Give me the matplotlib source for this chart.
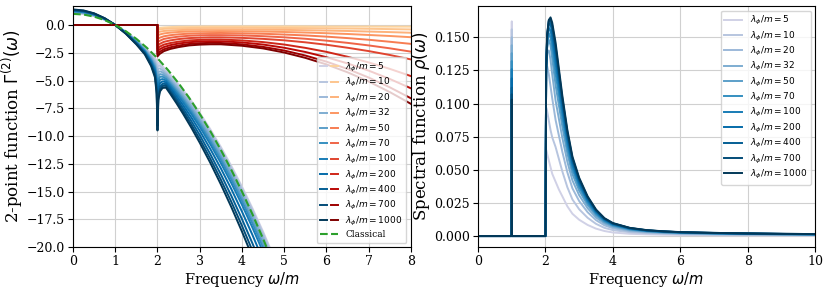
import numpy as np
import matplotlib
matplotlib.use('Agg')
import matplotlib.pyplot as plt
from matplotlib.legend_handler import HandlerTuple

# coupling values, one curve each
lam = [5, 10, 20, 32, 50, 70, 100, 200, 400, 700, 1000]

# ---- left panel: real part (blue) ----
w_re = [0, 0.25, 0.5, 0.75, 1.0, 1.25, 1.5, 1.7, 1.85, 1.94, 1.98, 2.0, 2.02, 2.06,
        2.12, 2.2, 2.3, 2.45, 2.6, 2.8, 3.0, 3.25, 3.5, 3.75, 4.0, 4.25, 4.5, 4.75]
gamma_re = [
    [1.06, 0.99, 0.80, 0.46, 0.0, -0.60, -1.33, -2.00, -2.59, -2.98, -3.20, -3.50, -3.40, -3.50,
     -3.72, -4.04, -4.45, -5.11, -5.81, -6.82, -7.91, -9.38, -10.98, -12.70, -14.55, -16.52, -18.61, -20.83],
    [1.09, 1.03, 0.82, 0.48, 0.0, -0.62, -1.37, -2.07, -2.70, -3.15, -3.49, -3.80, -3.62, -3.69,
     -3.89, -4.20, -4.61, -5.27, -5.97, -6.98, -8.07, -9.54, -11.13, -12.85, -14.70, -16.67, -18.76, -20.98],
    [1.13, 1.06, 0.85, 0.49, 0.0, -0.63, -1.41, -2.13, -2.81, -3.33, -3.79, -4.30, -3.91, -3.92,
     -4.08, -4.36, -4.78, -5.44, -6.15, -7.16, -8.26, -9.74, -11.35, -13.08, -14.93, -16.91, -19.02, -21.25],
    [1.16, 1.09, 0.87, 0.51, 0.0, -0.65, -1.45, -2.20, -2.92, -3.50, -4.09, -4.90, -4.25, -4.17,
     -4.27, -4.52, -4.94, -5.62, -6.33, -7.36, -8.47, -9.97, -11.59, -13.33, -15.21, -17.20, -19.32, -21.57],
    [1.20, 1.12, 0.90, 0.52, 0.0, -0.67, -1.50, -2.26, -3.04, -3.68, -4.39, -5.50, -4.58, -4.42,
     -4.47, -4.68, -5.11, -5.80, -6.53, -7.57, -8.70, -10.22, -11.86, -13.63, -15.52, -17.54, -19.68, -21.95],
    [1.23, 1.15, 0.92, 0.54, 0.0, -0.69, -1.54, -2.33, -3.15, -3.85, -4.69, -6.10, -4.92, -4.66,
     -4.66, -4.84, -5.28, -5.98, -6.72, -7.79, -8.93, -10.47, -12.13, -13.92, -15.84, -17.88, -20.04, -22.37],
    [1.26, 1.19, 0.95, 0.55, 0.0, -0.71, -1.58, -2.39, -3.26, -4.02, -4.99, -6.80, -5.30, -4.93,
     -4.87, -5.00, -5.45, -6.17, -6.93, -8.01, -9.17, -10.74, -12.43, -14.25, -16.19, -18.26, -20.45, -22.77],
    [1.30, 1.22, 0.97, 0.57, 0.0, -0.73, -1.62, -2.45, -3.37, -4.20, -5.29, -7.70, -5.75, -5.24,
     -5.08, -5.16, -5.64, -6.39, -7.19, -8.32, -9.53, -11.16, -12.91, -14.79, -16.80, -18.92, -21.18, -23.56],
    [1.33, 1.25, 1.00, 0.58, 0.0, -0.75, -1.67, -2.52, -3.49, -4.37, -5.59, -8.60, -6.21, -5.55,
     -5.30, -5.32, -5.83, -6.62, -7.46, -8.65, -9.92, -11.63, -13.45, -15.40, -17.48, -19.68, -22.01, -24.46],
    [1.37, 1.28, 1.03, 0.60, 0.0, -0.77, -1.71, -2.58, -3.60, -4.55, -5.89, -9.10, -6.50, -5.78,
     -5.49, -5.48, -6.01, -6.84, -7.72, -8.96, -10.28, -12.04, -13.93, -15.94, -18.08, -20.34, -22.73, -25.24],
    [1.40, 1.31, 1.05, 0.61, 0.0, -0.79, -1.75, -2.65, -3.71, -4.72, -6.19, -9.50, -6.76, -5.98,
     -5.67, -5.64, -6.19, -7.05, -7.96, -9.24, -10.60, -12.41, -14.35, -16.41, -18.60, -20.91, -23.35, -25.91],
]

# ---- left panel: imaginary part (red) ----
w_im = [0, 1.999, 2.0, 2.05, 2.15, 2.3, 2.5, 2.75, 3.0, 3.25, 3.5, 4.0, 4.5, 5.0,
        5.5, 6.0, 6.5, 7.0, 7.5, 8.0]
gamma_im = [
    [0, 0, -0.30, -0.26, -0.22, -0.19, -0.16, -0.15, -0.14, -0.13, -0.13, -0.13, -0.13, -0.13, -0.13, -0.14, -0.14, -0.14, -0.15, -0.15],
    [0, 0, -0.45, -0.40, -0.35, -0.32, -0.29, -0.27, -0.26, -0.25, -0.25, -0.25, -0.26, -0.27, -0.28, -0.30, -0.32, -0.34, -0.37, -0.40],
    [0, 0, -0.68, -0.61, -0.54, -0.50, -0.46, -0.43, -0.41, -0.40, -0.40, -0.41, -0.42, -0.44, -0.47, -0.50, -0.54, -0.59, -0.64, -0.70],
    [0, 0, -0.95, -0.86, -0.76, -0.69, -0.63, -0.59, -0.57, -0.56, -0.55, -0.57, -0.59, -0.63, -0.68, -0.74, -0.81, -0.90, -0.99, -1.10],
    [0, 0, -1.28, -1.15, -1.02, -0.92, -0.84, -0.78, -0.75, -0.73, -0.72, -0.75, -0.79, -0.86, -0.94, -1.05, -1.18, -1.33, -1.51, -1.70],
    [0, 0, -1.58, -1.43, -1.26, -1.15, -1.05, -0.97, -0.93, -0.91, -0.91, -0.94, -1.01, -1.11, -1.24, -1.41, -1.61, -1.84, -2.10, -2.40],
    [0, 0, -1.88, -1.71, -1.52, -1.39, -1.27, -1.18, -1.14, -1.11, -1.11, -1.16, -1.25, -1.38, -1.56, -1.78, -2.05, -2.35, -2.70, -3.10],
    [0, 0, -2.14, -1.96, -1.77, -1.63, -1.50, -1.39, -1.34, -1.31, -1.31, -1.39, -1.54, -1.76, -2.06, -2.42, -2.86, -3.37, -3.95, -4.60],
    [0, 0, -2.38, -2.19, -1.99, -1.82, -1.67, -1.55, -1.49, -1.46, -1.47, -1.57, -1.76, -2.05, -2.43, -2.90, -3.46, -4.11, -4.86, -5.70],
    [0, 0, -2.62, -2.42, -2.19, -2.01, -1.85, -1.71, -1.64, -1.61, -1.62, -1.74, -1.97, -2.30, -2.75, -3.30, -3.96, -4.73, -5.61, -6.60],
    [0, 0, -2.83, -2.61, -2.36, -2.16, -1.99, -1.84, -1.77, -1.74, -1.74, -1.87, -2.11, -2.48, -2.96, -3.55, -4.26, -5.09, -6.04, -7.10],
]

# classical curve
w_cl = [0, 0.25, 0.5, 0.75, 1.0, 1.25, 1.5, 1.75, 2.0, 2.25, 2.5, 2.75, 3.0, 3.25,
        3.5, 3.75, 4.0, 4.25, 4.5, 4.75]
gamma_cl = [1.0, 0.94, 0.75, 0.44, 0.0, -0.56, -1.25, -2.06, -3.0, -4.06, -5.25, -6.56,
            -8.0, -9.56, -11.25, -13.06, -15.0, -17.06, -19.25, -21.56]

# ---- right panel: spectral function ----
w_rho = [0, 0.995, 1.0, 1.005, 2.0, 2.02, 2.05, 2.1, 2.15, 2.2, 2.3, 2.4, 2.5, 2.65,
         2.8, 3.0, 3.25, 3.5, 3.75, 4.0, 4.5, 5.0, 5.5, 6.0, 7.0, 8.0, 9.0, 10.0]
spike = [0.162, 0.156, 0.150, 0.144, 0.138, 0.132, 0.126, 0.119, 0.112, 0.107, 0.103]
# continuum, from w = 2.02 on
rho_cont = [
    [0.065, 0.062, 0.057, 0.052, 0.047, 0.041, 0.035, 0.030, 0.0224, 0.0168, 0.0123, 0.0084, 0.0056, 0.0038, 0.0027, 0.0017, 0.0013, 0.0010, 0.00084, 0.00067, 0.00056, 0.00048, 0.00042],
    [0.097, 0.094, 0.087, 0.080, 0.0745, 0.0672, 0.058, 0.0488, 0.0368, 0.0276, 0.0202, 0.0138, 0.0092, 0.0062, 0.0045, 0.0029, 0.0021, 0.0017, 0.0014, 0.0011, 0.00092, 0.00078, 0.00069],
    [0.126, 0.128, 0.122, 0.113, 0.104, 0.0876, 0.0756, 0.0636, 0.048, 0.036, 0.0264, 0.018, 0.012, 0.0081, 0.0059, 0.0037, 0.0027, 0.0022, 0.0018, 0.0014, 0.0012, 0.0010, 0.0009],
    [0.128, 0.138, 0.140, 0.133, 0.122, 0.1022, 0.0882, 0.0742, 0.056, 0.042, 0.0308, 0.021, 0.014, 0.0095, 0.0069, 0.0043, 0.0032, 0.0025, 0.0021, 0.0017, 0.0014, 0.0012, 0.0011],
    [0.127, 0.142, 0.148, 0.144, 0.134, 0.1139, 0.0983, 0.0827, 0.0624, 0.0468, 0.0343, 0.0234, 0.0156, 0.0105, 0.0076, 0.0048, 0.0035, 0.0028, 0.0023, 0.0019, 0.0016, 0.0013, 0.0012],
    [0.126, 0.145, 0.153, 0.150, 0.142, 0.1226, 0.1058, 0.089, 0.0672, 0.0504, 0.037, 0.0252, 0.0168, 0.0113, 0.0082, 0.0052, 0.0038, 0.0030, 0.0025, 0.0020, 0.0017, 0.0014, 0.0013],
    [0.126, 0.148, 0.157, 0.155, 0.148, 0.1299, 0.1121, 0.0943, 0.0712, 0.0534, 0.0392, 0.0267, 0.0178, 0.012, 0.0087, 0.0055, 0.0040, 0.0032, 0.0027, 0.0021, 0.0018, 0.0015, 0.0013],
    [0.125, 0.150, 0.160, 0.160, 0.153, 0.1358, 0.1172, 0.0986, 0.0744, 0.0558, 0.0409, 0.0279, 0.0186, 0.0126, 0.0091, 0.0058, 0.0042, 0.0034, 0.0028, 0.0022, 0.0019, 0.0016, 0.0014],
    [0.125, 0.151, 0.162, 0.163, 0.157, 0.1402, 0.121, 0.1018, 0.0768, 0.0576, 0.0422, 0.0288, 0.0192, 0.013, 0.0094, 0.0060, 0.0043, 0.0035, 0.0029, 0.0023, 0.0019, 0.0016, 0.0014],
    [0.125, 0.152, 0.163, 0.164, 0.159, 0.1431, 0.1235, 0.1039, 0.0784, 0.0588, 0.0431, 0.0294, 0.0196, 0.0132, 0.0096, 0.0061, 0.0044, 0.0035, 0.0029, 0.0024, 0.0020, 0.0017, 0.0015],
    [0.125, 0.152, 0.163, 0.165, 0.161, 0.146, 0.126, 0.106, 0.080, 0.060, 0.044, 0.030, 0.020, 0.0135, 0.0098, 0.0062, 0.0045, 0.0036, 0.0030, 0.0024, 0.0020, 0.0017, 0.0015],
]

plt.rcParams['font.family'] = 'serif'
plt.rcParams['xtick.labelsize'] = 9
plt.rcParams['ytick.labelsize'] = 9
plt.rcParams['xtick.major.pad'] = 2.5
plt.rcParams['ytick.major.pad'] = 2.5

fig = plt.figure(figsize=(8.3, 2.91), dpi=100)
ax1 = fig.add_axes([0.088, 0.151, 0.407, 0.828])
ax2 = fig.add_axes([0.576, 0.151, 0.406, 0.828])

blues = plt.cm.PuBu(np.linspace(0.25, 1.0, len(lam)))
reds = plt.cm.OrRd(np.linspace(0.25, 1.0, len(lam)))
labels = [r'$\lambda_\phi/m = %d$' % l for l in lam]

# left
bl = []
for i in range(len(lam)):
    b, = ax1.plot(w_re, gamma_re[i], color=blues[i], lw=1.4)
    bl.append(b)
rl = []
for i in range(len(lam)):
    r, = ax1.plot(w_im, gamma_im[i], color=reds[i], lw=1.4)
    rl.append(r)
cl, = ax1.plot(w_cl, gamma_cl, '--', color='tab:green', lw=1.5)

ax1.set_xlim(0, 8)
ax1.set_ylim(-20, 1.7)
ax1.set_yticks(np.arange(-20, 0.1, 2.5))
ax1.grid(True, color='#d0d0d0')
ax1.set_xlabel(r'Frequency $\omega/m$', fontsize=10.5, labelpad=1)
ax1.set_ylabel(r'2-point function $\Gamma^{(2)}(\omega)$', fontsize=12, labelpad=1)
ax1.legend([(bl[i], rl[i]) for i in range(len(lam))] + [cl], labels + ['Classical'],
           handler_map={tuple: HandlerTuple(ndivide=None)},
           loc='lower right', fontsize=6.5, labelspacing=0.25)

# right
for i in range(len(lam)):
    y = [0, 0, spike[i], 0, 0] + rho_cont[i]
    ax2.plot(w_rho, y, color=blues[i], lw=1.4, label=labels[i])

ax2.set_xlim(0, 10)
ax2.set_ylim(-0.0083, 0.1735)
ax2.set_yticks(np.arange(0, 0.151, 0.025))
ax2.grid(True, color='#d0d0d0')
ax2.set_xlabel(r'Frequency $\omega/m$', fontsize=10.5, labelpad=1)
ax2.set_ylabel(r'Spectral function $\rho(\omega)$', fontsize=12, labelpad=1)
ax2.legend(loc='upper right', fontsize=6.5, labelspacing=0.25)

fig.savefig('out.png', dpi=100)
